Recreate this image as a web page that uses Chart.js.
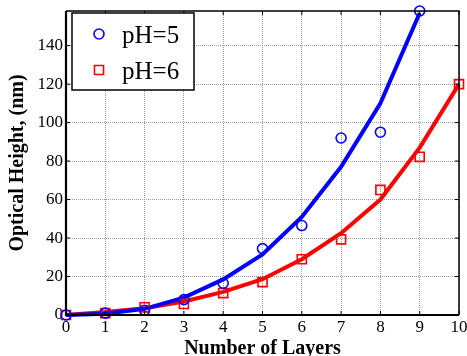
<!DOCTYPE html>
<html>
<head>
<meta charset="utf-8">
<script src="https://cdn.jsdelivr.net/npm/chart.js@4.4.1/dist/chart.umd.min.js"></script>
<style>
  html, body { margin: 0; padding: 0; background: #fff; }
  #wrap { width: 467px; height: 356px; }
</style>
</head>
<body>
<div id="wrap"><canvas id="layersChart"></canvas></div>
<script>
// number of deposited layers
const layers = [0, 1, 2, 3, 4, 5, 6, 7, 8, 9, 10];
const yTicks = [0, 20, 40, 60, 80, 100, 120, 140];

// measured optical height (nm)
const measuredPH5 = [0, 1, 2.5, 8, 16.5, 34.5, 46.5, 92, 95, 158];
const measuredPH6 = [0, 1, 4, 5.7, 11.4, 17.1, 29, 39.3, 65, 82.2, 120];

// fitted curves
const fitPH5 = [0, 0.6, 3.2, 9, 18.5, 31.5, 51, 77, 110, 157];
const fitPH6 = [0, 1.5, 3.5, 7, 12, 18.6, 29, 42.5, 60, 87, 120];

const BLUE = '#0000ff';
const RED = '#ff0000';
const SERIF = '"Liberation Serif", "Times New Roman", serif';

const toPoints = ys => ys.map((y, i) => ({ x: layers[i], y: y }));

// black box around the plot with inward ticks, plus the legend box
const framePlugin = {
  id: 'frame',
  afterDraw(chart) {
    const { ctx, chartArea: a, scales } = chart;
    ctx.save();
    ctx.strokeStyle = '#000';
    ctx.lineWidth = 1.5;
    ctx.beginPath();
    ctx.moveTo(a.left, a.top);
    ctx.lineTo(a.right, a.top);
    ctx.lineTo(a.right, a.bottom);
    ctx.stroke();
    ctx.lineWidth = 2.2;
    ctx.beginPath();
    ctx.moveTo(a.left, a.top);
    ctx.lineTo(a.left, a.bottom);
    ctx.lineTo(a.right, a.bottom);
    ctx.stroke();
    ctx.lineWidth = 1;
    ctx.beginPath();
    layers.forEach(v => {
      const px = scales.x.getPixelForValue(v);
      ctx.moveTo(px, a.top); ctx.lineTo(px, a.top + 4);
      ctx.moveTo(px, a.bottom); ctx.lineTo(px, a.bottom - 4);
    });
    yTicks.forEach(v => {
      const py = scales.y.getPixelForValue(v);
      ctx.moveTo(a.right, py); ctx.lineTo(a.right - 4, py);
      ctx.moveTo(a.left, py); ctx.lineTo(a.left + 4, py);
    });
    ctx.stroke();

    // legend box
    const bx = a.left + 6, by = a.top + 2, bw = 122, bh = 77;
    ctx.fillStyle = '#fff';
    ctx.fillRect(bx, by, bw, bh);
    ctx.lineWidth = 1.5;
    ctx.strokeStyle = '#000';
    ctx.strokeRect(bx, by, bw, bh);
    const entries = chart.data.datasets.filter(d => d.inLegend);
    entries.forEach((d, i) => {
      const cy = by + 21 + i * 36;
      ctx.fillStyle = 'rgba(0,0,0,0)';
      ctx.strokeStyle = d.borderColor;
      ctx.lineWidth = d.pointBorderWidth;
      Chart.helpers.drawPoint(ctx, {
        pointStyle: d.pointStyle,
        radius: d.pointRadius,
        borderWidth: d.pointBorderWidth
      }, bx + 27, cy);
      ctx.fillStyle = '#000';
      ctx.font = '25px ' + SERIF;
      ctx.textBaseline = 'middle';
      ctx.fillText(d.label, bx + 50, cy + 2);
    });
    ctx.restore();
  }
};

new Chart(document.getElementById('layersChart'), {
  type: 'scatter',
  data: {
    datasets: [
      {
        label: 'pH=5', inLegend: true,
        data: toPoints(measuredPH5),
        pointStyle: 'circle', pointRadius: 5, pointBorderWidth: 1.6,
        borderColor: BLUE, backgroundColor: 'rgba(0,0,0,0)',
        showLine: false, clip: false, order: 1
      },
      {
        label: 'pH=6', inLegend: true,
        data: toPoints(measuredPH6),
        pointStyle: 'rect', pointRadius: 6.4, pointBorderWidth: 1.6,
        borderColor: RED, backgroundColor: 'rgba(0,0,0,0)',
        showLine: false, clip: false, order: 1
      },
      {
        label: 'fit pH=5',
        data: toPoints(fitPH5),
        showLine: true, pointRadius: 0, borderWidth: 4,
        borderColor: BLUE, tension: 0, clip: false, order: 2
      },
      {
        label: 'fit pH=6',
        data: toPoints(fitPH6),
        showLine: true, pointRadius: 0, borderWidth: 4,
        borderColor: RED, tension: 0, clip: false, order: 2
      }
    ]
  },
  options: {
    responsive: true,
    maintainAspectRatio: false,
    animation: false,
    layout: { padding: { left: 0, right: 6, top: 11, bottom: 0 } },
    plugins: {
      legend: { display: false },
      tooltip: { enabled: false }
    },
    scales: {
      x: {
        type: 'linear', min: 0, max: 10,
        afterBuildTicks: s => { s.ticks = layers.map(v => ({ value: v })); },
        afterFit: s => { s.height = 41; s.paddingLeft = 0; s.paddingRight = 0; },
        border: { display: false, dash: [1, 1] },
        grid: { color: '#9a9a9a', lineWidth: 1, drawTicks: false },
        ticks: { color: '#000', padding: 2, maxRotation: 0, font: { family: SERIF, size: 17 } },
        title: {
          display: true, text: 'Number of Layers', color: '#000',
          padding: { top: 0, bottom: -5 },
          font: { family: SERIF, size: 20, weight: 'bold' }
        }
      },
      y: {
        type: 'linear', min: 0, max: 158,
        afterBuildTicks: s => { s.ticks = yTicks.map(v => ({ value: v })); },
        afterFit: s => { s.width = 66; s.paddingTop = 0; s.paddingBottom = 0; },
        border: { display: false, dash: [1, 1] },
        grid: { color: '#9a9a9a', lineWidth: 1, drawTicks: false },
        ticks: { color: '#000', padding: 3, font: { family: SERIF, size: 17 } },
        title: {
          display: true, text: 'Optical Height, (nm)', color: '#000',
          padding: { top: 6, bottom: 0 },
          font: { family: SERIF, size: 20, weight: 'bold' }
        }
      }
    }
  },
  plugins: [framePlugin]
});
</script>
</body>
</html>
